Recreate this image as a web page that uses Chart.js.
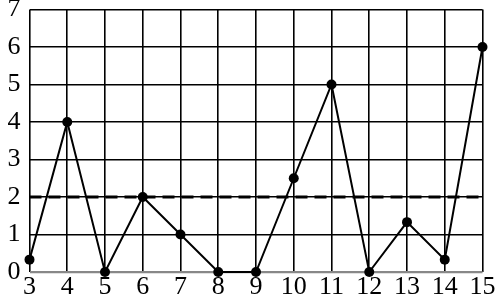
<!DOCTYPE html>
<html>
<head>
<meta charset="utf-8">
<script src="https://cdn.jsdelivr.net/npm/chart.js@4"></script>
<style>
  html, body { margin: 0; padding: 0; background: #fff; }
  #wrap { width: 498px; height: 300px; }
</style>
</head>
<body>
<div id="wrap"><canvas id="chart"></canvas></div>
<script>
// Données
const xValues = [3, 4, 5, 6, 7, 8, 9, 10, 11, 12, 13, 14, 15];
const yValues = [0.33, 4, 0, 2, 1, 0, 0, 2.5, 5, 0, 1.33, 0.33, 6];
const refLevel = 2;
const xRange = [3, 15];
const yRange = [0, 7];

const font = { family: 'Liberation Serif', size: 26 };

new Chart(document.getElementById('chart'), {
  type: 'line',
  data: {
    datasets: [{
      data: xValues.map((x, i) => ({ x: x, y: yValues[i] })),
      borderColor: '#000',
      borderWidth: 2,
      tension: 0,
      clip: false,
      pointRadius: 5,
      pointBackgroundColor: '#000',
      pointBorderWidth: 0
    }, {
      data: xRange.map(x => ({ x: x, y: refLevel })),
      borderColor: '#000',
      borderWidth: 3,
      borderDash: [12, 7],
      pointRadius: 0
    }]
  },
  options: {
    responsive: true,
    maintainAspectRatio: false,
    animation: false,
    events: [],
    layout: { padding: { top: 9.5, right: 15.5, left: 0, bottom: 0 } },
    plugins: { legend: { display: false }, tooltip: { enabled: false } },
    scales: {
      x: {
        type: 'linear',
        min: xRange[0], max: xRange[1],
        border: { display: false },
        grid: { color: '#000', lineWidth: 1.6, drawTicks: false },
        ticks: { stepSize: 1, color: '#000', font: font, padding: 0, maxRotation: 0 },
        afterFit: s => { s.height = 28; s.paddingLeft = 0; s.paddingRight = 0; }
      },
      y: {
        min: yRange[0], max: yRange[1],
        border: { display: false },
        grid: {
          color: c => c.tick && c.tick.value === 0 ? '#888' : '#000',
          lineWidth: c => c.tick && c.tick.value === 0 ? 2.2 : 1.6,
          drawTicks: false
        },
        ticks: { stepSize: 1, color: '#000', font: font, padding: 9 },
        afterFit: s => { s.width = 29.5; s.paddingTop = 0; s.paddingBottom = 0; }
      }
    }
  }
});
</script>
</body>
</html>
